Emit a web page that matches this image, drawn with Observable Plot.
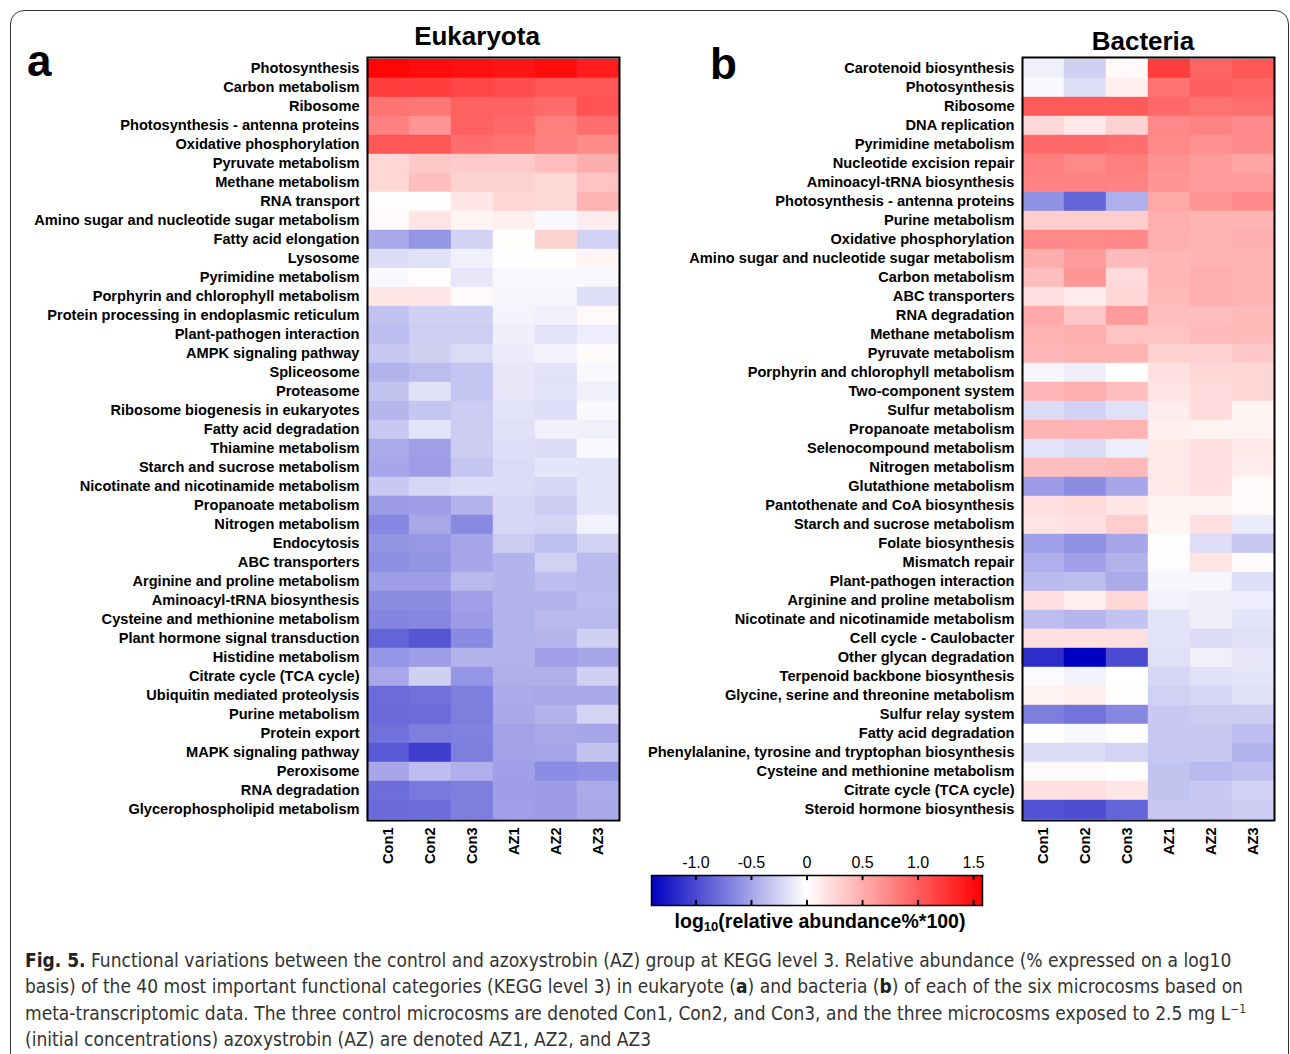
<!DOCTYPE html>
<html>
<head>
<meta charset="utf-8">
<script src="https://cdn.jsdelivr.net/npm/d3@7"></script>
<script src="https://cdn.jsdelivr.net/npm/@observablehq/plot@0.6"></script>
<style>
  html, body { margin: 0; padding: 0; background: #fff; }
  #root { position: relative; width: 1290px; height: 1054px; overflow: hidden; font-family: "Liberation Sans", Arial, sans-serif; }
  .abs { position: absolute; }
  .panel-letter { font-weight: bold; font-size: 44px; line-height: 1; color: #000; }
  .title { font-weight: bold; font-size: 26px; line-height: 1; color: #000; transform: translateX(-50%); white-space: nowrap; }
  #box { position: absolute; left: 10px; top: 10px; width: 1279px; height: 1100px; border: 1.5px solid #333; border-radius: 14px; box-sizing: border-box; }
  #legtitle { font-weight: bold; font-size: 19.5px; line-height: 1; color: #000; transform: translateX(-50%); white-space: nowrap; }
  #legtitle sub { font-size: 13px; vertical-align: -3px; }
  #caption { left: 25px; top: 946.5px; width: 1250px; font-family: "DejaVu Sans Condensed", "Liberation Sans Narrow", "Liberation Sans", sans-serif; font-size: 19px; line-height: 26.5px; color: #333; white-space: nowrap; }
  #caption b { color: #222; }
  #caption sup { font-size: 12px; line-height: 0; }
</style>
</head>
<body>
<div id="root">
  <div id="box"></div>
  <div id="caption" class="abs"></div>
</div>
<script>
const samples = ["Con1", "Con2", "Con3", "AZ1", "AZ2", "AZ3"];

const eukCategories = [
  "Photosynthesis", "Carbon metabolism", "Ribosome", "Photosynthesis - antenna proteins",
  "Oxidative phosphorylation", "Pyruvate metabolism", "Methane metabolism", "RNA transport",
  "Amino sugar and nucleotide sugar metabolism", "Fatty acid elongation", "Lysosome",
  "Pyrimidine metabolism", "Porphyrin and chlorophyll metabolism",
  "Protein processing in endoplasmic reticulum", "Plant-pathogen interaction",
  "AMPK signaling pathway", "Spliceosome", "Proteasome", "Ribosome biogenesis in eukaryotes",
  "Fatty acid degradation", "Thiamine metabolism", "Starch and sucrose metabolism",
  "Nicotinate and nicotinamide metabolism", "Propanoate metabolism", "Nitrogen metabolism",
  "Endocytosis", "ABC transporters", "Arginine and proline metabolism",
  "Aminoacyl-tRNA biosynthesis", "Cysteine and methionine metabolism",
  "Plant hormone signal transduction", "Histidine metabolism", "Citrate cycle (TCA cycle)",
  "Ubiquitin mediated proteolysis", "Purine metabolism", "Protein export",
  "MAPK signaling pathway", "Peroxisome", "RNA degradation", "Glycerophospholipid metabolism"
];

const eukValues = [
  [1.55, 1.50, 1.48, 1.45, 1.50, 1.40],
  [1.20, 1.20, 1.15, 1.10, 1.05, 1.05],
  [0.87, 0.85, 0.98, 0.97, 0.92, 1.07],
  [0.78, 0.66, 0.98, 0.93, 0.80, 0.90],
  [1.05, 1.05, 0.90, 0.87, 0.78, 0.72],
  [0.25, 0.34, 0.33, 0.33, 0.40, 0.50],
  [0.25, 0.40, 0.28, 0.28, 0.24, 0.37],
  [0.01, 0.01, 0.15, 0.25, 0.24, 0.47],
  [0.03, 0.17, 0.06, 0.10, -0.03, 0.12],
  [-0.47, -0.58, -0.25, 0.02, 0.28, -0.25],
  [-0.19, -0.17, -0.08, 0.01, 0.02, 0.06],
  [-0.04, 0.02, -0.13, -0.04, -0.04, -0.04],
  [0.15, 0.15, 0.04, -0.05, -0.05, -0.18],
  [-0.33, -0.26, -0.26, -0.06, -0.08, 0.04],
  [-0.37, -0.27, -0.27, -0.09, -0.16, -0.10],
  [-0.30, -0.26, -0.20, -0.11, -0.07, 0.03],
  [-0.42, -0.37, -0.32, -0.13, -0.16, -0.04],
  [-0.33, -0.17, -0.32, -0.13, -0.16, -0.08],
  [-0.40, -0.32, -0.28, -0.16, -0.18, -0.04],
  [-0.30, -0.15, -0.28, -0.17, -0.08, -0.08],
  [-0.46, -0.52, -0.28, -0.18, -0.19, -0.04],
  [-0.49, -0.53, -0.32, -0.20, -0.14, -0.15],
  [-0.30, -0.22, -0.19, -0.20, -0.22, -0.15],
  [-0.55, -0.53, -0.42, -0.22, -0.28, -0.15],
  [-0.66, -0.48, -0.64, -0.22, -0.24, -0.07],
  [-0.59, -0.57, -0.49, -0.28, -0.35, -0.25],
  [-0.62, -0.59, -0.49, -0.41, -0.25, -0.38],
  [-0.53, -0.53, -0.38, -0.41, -0.36, -0.38],
  [-0.63, -0.63, -0.52, -0.42, -0.41, -0.36],
  [-0.67, -0.66, -0.55, -0.42, -0.38, -0.38],
  [-0.85, -0.93, -0.64, -0.42, -0.40, -0.26],
  [-0.58, -0.53, -0.42, -0.42, -0.52, -0.49],
  [-0.48, -0.26, -0.58, -0.44, -0.44, -0.26],
  [-0.81, -0.78, -0.71, -0.46, -0.48, -0.47],
  [-0.82, -0.81, -0.71, -0.47, -0.42, -0.24],
  [-0.78, -0.71, -0.70, -0.51, -0.48, -0.49],
  [-0.90, -1.06, -0.71, -0.51, -0.49, -0.33],
  [-0.49, -0.36, -0.44, -0.52, -0.63, -0.60],
  [-0.80, -0.74, -0.71, -0.53, -0.55, -0.46],
  [-0.82, -0.80, -0.71, -0.52, -0.55, -0.47]
];

const bacCategories = [
  "Carotenoid biosynthesis", "Photosynthesis", "Ribosome", "DNA replication",
  "Pyrimidine metabolism", "Nucleotide excision repair", "Aminoacyl-tRNA biosynthesis",
  "Photosynthesis - antenna proteins", "Purine metabolism", "Oxidative phosphorylation",
  "Amino sugar and nucleotide sugar metabolism", "Carbon metabolism", "ABC transporters",
  "RNA degradation", "Methane metabolism", "Pyruvate metabolism",
  "Porphyrin and chlorophyll metabolism", "Two-component system", "Sulfur metabolism",
  "Propanoate metabolism", "Selenocompound metabolism", "Nitrogen metabolism",
  "Glutathione metabolism", "Pantothenate and CoA biosynthesis",
  "Starch and sucrose metabolism", "Folate biosynthesis", "Mismatch repair",
  "Plant-pathogen interaction", "Arginine and proline metabolism",
  "Nicotinate and nicotinamide metabolism", "Cell cycle - Caulobacter",
  "Other glycan degradation", "Terpenoid backbone biosynthesis",
  "Glycine, serine and threonine metabolism", "Sulfur relay system",
  "Fatty acid degradation", "Phenylalanine, tyrosine and tryptophan biosynthesis",
  "Cysteine and methionine metabolism", "Citrate cycle (TCA cycle)",
  "Steroid hormone biosynthesis"
];

const bacValues = [
  [-0.08, -0.26, 0.04, 1.20, 0.96, 1.05],
  [-0.03, -0.18, 0.10, 0.87, 0.99, 0.96],
  [1.02, 1.02, 1.02, 0.93, 0.87, 0.90],
  [0.25, 0.14, 0.28, 0.74, 0.77, 0.71],
  [0.93, 0.93, 0.90, 0.74, 0.68, 0.71],
  [0.80, 0.74, 0.80, 0.68, 0.62, 0.56],
  [0.77, 0.77, 0.77, 0.65, 0.62, 0.62],
  [-0.60, -0.85, -0.44, 0.54, 0.65, 0.71],
  [0.31, 0.31, 0.31, 0.50, 0.47, 0.47],
  [0.74, 0.74, 0.74, 0.50, 0.48, 0.50],
  [0.50, 0.62, 0.42, 0.45, 0.47, 0.48],
  [0.40, 0.65, 0.23, 0.45, 0.50, 0.48],
  [0.20, 0.12, 0.25, 0.43, 0.50, 0.47],
  [0.53, 0.34, 0.62, 0.40, 0.40, 0.43],
  [0.47, 0.50, 0.37, 0.37, 0.42, 0.43],
  [0.45, 0.47, 0.47, 0.28, 0.28, 0.34],
  [-0.05, -0.09, 0.00, 0.19, 0.25, 0.25],
  [0.45, 0.50, 0.40, 0.17, 0.22, 0.25],
  [-0.19, -0.25, -0.17, 0.12, 0.22, 0.08],
  [0.47, 0.47, 0.47, 0.10, 0.08, 0.08],
  [-0.15, -0.20, -0.10, 0.14, 0.19, 0.14],
  [0.40, 0.40, 0.43, 0.14, 0.19, 0.12],
  [-0.55, -0.63, -0.49, 0.14, 0.19, 0.04],
  [0.20, 0.23, 0.15, 0.08, 0.08, 0.04],
  [0.17, 0.19, 0.31, 0.06, 0.19, -0.11],
  [-0.52, -0.60, -0.49, 0.01, -0.18, -0.31],
  [-0.44, -0.52, -0.42, -0.01, 0.17, 0.03],
  [-0.38, -0.37, -0.46, -0.05, -0.05, -0.18],
  [0.19, 0.10, 0.25, -0.07, -0.09, -0.10],
  [-0.37, -0.40, -0.33, -0.15, -0.09, -0.15],
  [0.20, 0.20, 0.20, -0.16, -0.20, -0.17],
  [-1.15, -1.40, -0.99, -0.17, -0.08, -0.13],
  [-0.02, -0.07, 0.00, -0.22, -0.17, -0.14],
  [0.08, 0.09, 0.01, -0.25, -0.22, -0.17],
  [-0.71, -0.77, -0.66, -0.30, -0.28, -0.28],
  [0.01, -0.04, 0.01, -0.31, -0.30, -0.36],
  [-0.19, -0.19, -0.24, -0.31, -0.30, -0.41],
  [0.03, 0.03, 0.01, -0.33, -0.38, -0.35],
  [0.19, 0.20, 0.15, -0.33, -0.30, -0.25],
  [-0.95, -0.97, -0.85, -0.31, -0.31, -0.28]
];

const colorDomain = [-1.4, 0, 1.58];
const colorRange = ["#0000c0", "#ffffff", "#ff0000"];
const legendTicks = [-1.0, -0.5, 0, 0.5, 1.0, 1.5];

const colorScale = { type: "linear", domain: colorDomain, range: colorRange, interpolate: "rgb" };
const labelFont = { fontFamily: "'Liberation Sans', Arial, sans-serif", fontSize: "14.6px", fontWeight: "bold", color: "#000", background: "transparent", overflow: "visible" };

function tidy(categories, values) {
  return categories.flatMap((c, i) => samples.map((s, j) => ({ category: c, sample: s, value: values[i][j] })));
}

function heatmap(categories, values, width, marginLeft, marginRight) {
  return Plot.plot({
    width, height: 880,
    marginLeft, marginRight, marginTop: 57, marginBottom: 60,
    style: labelFont,
    x: { domain: samples, padding: 0, label: null },
    y: { domain: categories, padding: 0, label: null },
    color: colorScale,
    marks: [
      Plot.cell(tidy(categories, values), { x: "sample", y: "category", fill: "value", stroke: "value", strokeWidth: 0.4, inset: 0 }),
      Plot.axisY({ tickSize: 0, tickPadding: 8, dy: -1, label: null }),
      Plot.axisX({ anchor: "bottom", tickRotate: -90, tickSize: 0, tickPadding: 7, label: null }),
      Plot.frame({ stroke: "#000", strokeWidth: 2 })
    ]
  });
}

const root = document.getElementById("root");

function place(el, left, top) {
  el.style.position = "absolute";
  el.style.left = left + "px";
  el.style.top = top + "px";
  root.appendChild(el);
}

const plotA = heatmap(eukCategories, eukValues, 622, 367, 3);
place(plotA, 0, 0);

const plotB = heatmap(bacCategories, bacValues, 650, 382, 16);
place(plotB, 640, 0);

// Legend color bar
const legMin = colorDomain[0], legMax = colorDomain[2];
const legend = Plot.plot({
  width: 371, height: 65,
  marginLeft: 20, marginRight: 20, marginTop: 30, marginBottom: 5,
  style: { fontFamily: "'Liberation Sans', Arial, sans-serif", fontSize: "16px", color: "#000", background: "transparent", overflow: "visible" },
  x: { domain: [legMin, legMax], axis: "top", ticks: legendTicks, tickSize: 0, tickPadding: 8, label: null,
       tickFormat: d => d === 0 ? "0" : (d < 0 ? "-" : "") + Math.abs(d).toFixed(1) },
  y: { domain: [0, 1], axis: null },
  marks: [
    Plot.rect([{ a: legMin, b: legMax }], { x1: "a", x2: "b", y1: 0, y2: 1, fill: "url(#legramp)" }),
    Plot.ruleX(legendTicks, { y1: 0, y2: 0.17, stroke: "#000", strokeWidth: 2 }),
    Plot.ruleX(legendTicks, { y1: 0.83, y2: 1, stroke: "#000", strokeWidth: 2 }),
    Plot.frame({ stroke: "#000", strokeWidth: 1.5 })
  ]
});
const grad = d3.select(legend).insert("defs", ":first-child")
  .append("linearGradient").attr("id", "legramp").attr("x1", "0%").attr("x2", "100%").attr("y1", "0%").attr("y2", "0%");
colorDomain.forEach((v, i) => {
  grad.append("stop").attr("offset", ((v - legMin) / (legMax - legMin) * 100) + "%").attr("stop-color", colorRange[i]);
});
place(legend, 631, 845);

// Text elements
function addText(html, cls, left, top, extra) {
  const d = document.createElement("div");
  d.className = "abs " + cls;
  d.innerHTML = html;
  d.style.left = left + "px";
  d.style.top = top + "px";
  if (extra) d.id = extra;
  root.appendChild(d);
  return d;
}
addText("a", "panel-letter", 27, 39);
addText("b", "panel-letter", 710, 42);
addText("Eukaryota", "title", 477, 23);
addText("Bacteria", "title", 1143, 28);
addText("log<sub>10</sub>(relative abundance%*100)", "", 820, 912, "legtitle");

document.getElementById("caption").innerHTML =
  "<b>Fig. 5.</b> Functional variations between the control and azoxystrobin (AZ) group at KEGG level 3. Relative abundance (% expressed on a log10<br>" +
  "basis) of the 40 most important functional categories (KEGG level 3) in eukaryote (<b>a</b>) and bacteria (<b>b</b>) of each of the six microcosms based on<br>" +
  "meta-transcriptomic data. The three control microcosms are denoted Con1, Con2, and Con3, and the three microcosms exposed to 2.5 mg L<sup>\u22121</sup><br>" +
  "(initial concentrations) azoxystrobin (AZ) are denoted AZ1, AZ2, and AZ3";
</script>
</body>
</html>
